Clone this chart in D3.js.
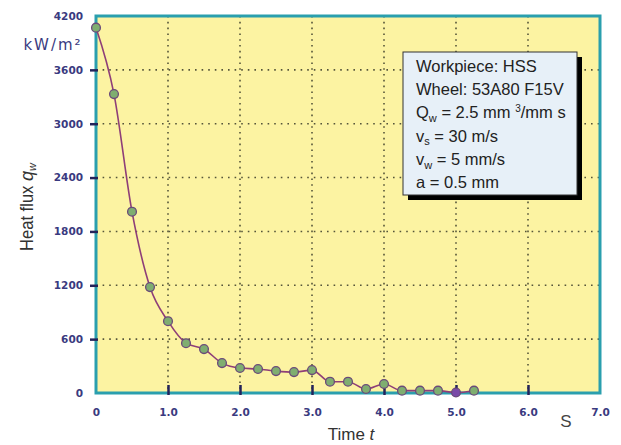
<!DOCTYPE html>
<html><head><meta charset="utf-8">
<script src="https://cdn.jsdelivr.net/npm/d3@7"></script>
<style>body{margin:0;background:#fff}svg{display:block}</style>
</head><body>
<script>
const times = [0,0.25,0.5,0.75,1.0,1.25,1.5,1.75,2.0,2.25,2.5,2.75,3.0,3.25,3.5,3.75,4.0,4.25,4.5,4.75,5.0,5.25];
const heatFlux = [4070,3330,2020,1180,800,555,489,333,278,267,244,233,255,126,126,44,100,26,26,26,5,26];
const yTicks = [0,600,1200,1800,2400,3000,3600,4200];
const xTicks = [0,1,2,3,4,5,6,7];
const xTickLabels = ["0","1.0","2.0","3.0","4.0","5.0","6.0","7.0"];
const legendLines = ["Workpiece: HSS","Wheel: 53A80 F15V","Q_w = 2.5 mm 3/mm s","v_s = 30 m/s","v_w = 5 mm/s","a = 0.5 mm"];

const W=621,H=445;
const svg=d3.select("body").append("svg").attr("width",W).attr("height",H);
const L=96,R=600,T=16,B=393;
const x=d3.scaleLinear().domain([0,7]).range([L,R]);
const y=d3.scaleLinear().domain([0,4200]).range([B,T]);
const tickColor="#3a3a80";
const teal="#2a9fae";

svg.append("rect").attr("x",L).attr("y",T).attr("width",R-L).attr("height",B-T).attr("fill","#fcf3a2");

// grid
const grid=svg.append("g");
grid.selectAll("line.v").data(xTicks.slice(1,-1)).enter().append("line")
 .attr("x1",d=>x(d)).attr("x2",d=>x(d)).attr("y1",T).attr("y2",B)
 .attr("stroke","#55553a").attr("stroke-width",1.6).attr("stroke-dasharray","1.6,4.2");
grid.selectAll("line.h").data(yTicks.slice(1,-1)).enter().append("line")
 .attr("x1",L).attr("x2",R).attr("y1",d=>y(d)).attr("y2",d=>y(d))
 .attr("stroke","#55553a").attr("stroke-width",1.6).attr("stroke-dasharray","1.6,5");

// frame
svg.append("rect").attr("x",L).attr("y",T).attr("width",R-L).attr("height",B-T)
 .attr("fill","none").attr("stroke",teal).attr("stroke-width",3);

// y axis
const yAxis=d3.axisLeft(y).tickValues(yTicks).tickSize(0).tickPadding(13).tickFormat(d3.format("d"));
const ya=svg.append("g").attr("transform",`translate(${L},0)`).call(yAxis);
ya.select(".domain").remove();
ya.selectAll("text").attr("fill",tickColor).attr("font-family","DejaVu Sans").attr("font-weight","bold").attr("font-size",10.5);
ya.selectAll(".tick").filter(d=>d>0 && d<4200).append("line").attr("x1",-6).attr("x2",2).attr("stroke","#23235a").attr("stroke-width",2.5);

// x axis
const xAxis=d3.axisBottom(x).tickValues(xTicks).tickSize(0).tickPadding(16).tickFormat((d,i)=>xTickLabels[i]);
const xa=svg.append("g").attr("transform",`translate(0,${B})`).call(xAxis);
xa.select(".domain").remove();
xa.selectAll("text").attr("fill",tickColor).attr("font-family","DejaVu Sans").attr("font-weight","bold").attr("font-size",10.5);
xa.selectAll(".tick").filter(d=>d>0 && d<7).append("line").attr("y1",-8).attr("y2",2).attr("stroke","#23235a").attr("stroke-width",2.5);

// units
svg.append("text").attr("x",53).attr("y",50).attr("text-anchor","middle").attr("fill",tickColor)
 .attr("font-family","DejaVu Sans").attr("font-size",15).attr("letter-spacing",2).text("kW/m²");
svg.append("text").attr("x",566).attr("y",427).attr("text-anchor","middle").attr("fill","#444")
 .attr("font-family","Liberation Sans").attr("font-size",17).text("S");
svg.append("text").attr("x",351).attr("y",440).attr("text-anchor","middle").attr("fill","#333")
 .attr("font-family","Liberation Sans").attr("font-size",17)
 .call(t=>{t.append("tspan").text("Time ");t.append("tspan").attr("font-style","italic").text("t");});
const yl=svg.append("text").attr("transform","translate(33,207) rotate(-90)").attr("text-anchor","middle")
 .attr("fill","#333").attr("font-family","Liberation Sans").attr("font-size",18);
yl.append("tspan").attr("textLength",70).attr("lengthAdjust","spacingAndGlyphs").text("Heat flux ");
yl.append("tspan").attr("font-style","italic").text("q");
yl.append("tspan").attr("font-style","italic").attr("font-size",11).attr("dy",3).text("w");

// line
const data=times.map((t,i)=>({t,v:heatFlux[i]}));
svg.append("path").datum(data).attr("fill","none").attr("stroke","#8e3e78").attr("stroke-width",1.6)
 .attr("d",d3.line().x(d=>x(d.t)).y(d=>y(d.v)).curve(d3.curveMonotoneX));
svg.selectAll("circle.pt").data(data).enter().append("circle")
 .attr("cx",d=>x(d.t)).attr("cy",d=>y(d.v)).attr("r",4.4)
 .attr("fill",(d,i)=>d.t===5?"#7a4aa8":"#7fae70").attr("stroke","#6a4a7a").attr("stroke-width",1.3);

// legend
const lx=403,ly=52,lw=174,lh=143;
svg.append("rect").attr("x",lx+5).attr("y",ly+5).attr("width",lw).attr("height",lh).attr("fill","#000");
svg.append("rect").attr("x",lx).attr("y",ly).attr("width",lw).attr("height",lh).attr("fill","#e7f0f8").attr("stroke","#333").attr("stroke-width",1);
const lg=svg.append("g").attr("font-family","Liberation Sans").attr("font-size",16.5).attr("fill","#222");
const ty=i=>72+i*23.2;
const tx=lx+13;
lg.append("text").attr("x",tx).attr("y",ty(0)).text(legendLines[0]);
lg.append("text").attr("x",tx).attr("y",ty(1)).text(legendLines[1]);
const q=lg.append("text").attr("x",tx).attr("y",ty(2));
q.append("tspan").text("Q");q.append("tspan").attr("font-size",11).attr("dy",4).text("w");
q.append("tspan").attr("dy",-4).text(" = 2.5 mm ");q.append("tspan").attr("font-size",10).attr("dy",-6).text("3");
q.append("tspan").attr("dy",6).text("/mm s");
const vs=lg.append("text").attr("x",tx).attr("y",ty(3));
vs.append("tspan").text("v");vs.append("tspan").attr("font-size",11).attr("dy",3).text("s");
vs.append("tspan").attr("dy",-3).text("  = 30 m/s");
const vw=lg.append("text").attr("x",tx).attr("y",ty(4));
vw.append("tspan").text("v");vw.append("tspan").attr("font-size",11).attr("dy",4).text("w");
vw.append("tspan").attr("dy",-4).text(" = 5 mm/s");
lg.append("text").attr("x",tx).attr("y",ty(5)).text(legendLines[5]);
</script>
</body></html>
